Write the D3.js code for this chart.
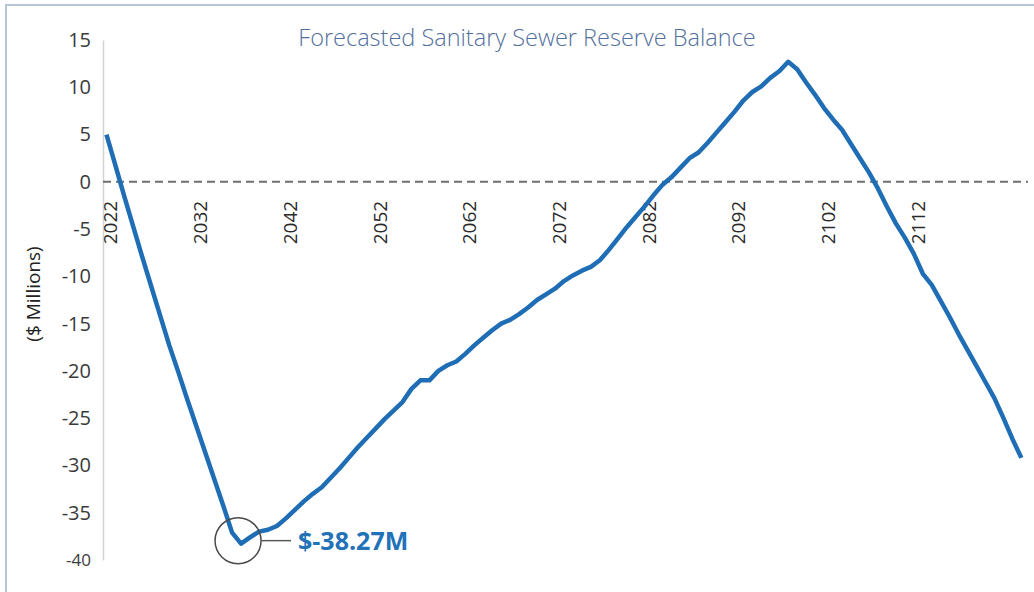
<!DOCTYPE html>
<html>
<head>
<meta charset="utf-8">
<script src="https://cdn.jsdelivr.net/npm/d3@7"></script>
<style>
  body { margin: 0; background: #fff; }
  svg { display: block; }
</style>
</head>
<body>
<div id="chart"></div>
<script>
// Forecasted reserve balance, $ millions, one value per year 2022-2124
const years = d3.range(2022, 2125);
const balance = [
  5.0, 1.7, -1.6, -4.8, -8.0, -11.1, -14.2, -17.3, -20.1, -23.0,
  -25.8, -28.6, -31.4, -34.2, -37.1, -38.27, -37.6, -37.0, -36.8, -36.4,
  -35.6, -34.7, -33.8, -33.0, -32.3, -31.3, -30.3, -29.2, -28.1, -27.1,
  -26.1, -25.1, -24.2, -23.3, -21.9, -21.0, -21.0, -20.0, -19.4, -19.0,
  -18.2, -17.3, -16.5, -15.7, -15.0, -14.6, -14.0, -13.3, -12.5, -11.9,
  -11.3, -10.5, -9.9, -9.4, -9.0, -8.3, -7.2, -6.0, -4.8, -3.7,
  -2.6, -1.4, -0.3, 0.5, 1.5, 2.5, 3.1, 4.1, 5.2, 6.3,
  7.4, 8.6, 9.5, 10.1, 11.0, 11.7, 12.7, 11.9, 10.5, 9.2,
  7.8, 6.6, 5.5, 4.0, 2.5, 1.0, -0.7, -2.6, -4.4, -5.9,
  -7.6, -9.7, -10.9, -12.6, -14.3, -16.1, -17.8, -19.5, -21.2, -22.9,
  -25.0, -27.2, -29.2
];
const yTicks = [15, 10, 5, 0, -5, -10, -15, -20, -25, -30, -35, -40];
const xTickYears = years.filter((d) => (d - 2022) % 10 === 0 && d <= 2112);
const minLabel = "$-38.27M";

const W = 1034, H = 592;
const data = years.map((year, i) => ({ year, value: balance[i] }));

const svg = d3.select("#chart").append("svg")
  .attr("width", W).attr("height", H);

// outer frame
svg.append("rect")
  .attr("x", 6).attr("y", 5)
  .attr("width", W + 20).attr("height", H + 20)
  .attr("fill", "none")
  .attr("stroke", "#b9c4d6")
  .attr("stroke-width", 2);

// Scales
const x = d3.scalePoint().domain(years).range([106.5, 1021.4]);
const y = d3.scaleLinear().domain([-40, 15]).range([560, 40]);

// Title
svg.append("text")
  .attr("x", 527).attr("y", 46)
  .attr("text-anchor", "middle")
  .style("font-family", "'Open Sans', sans-serif")
  .style("font-weight", 300)
  .style("font-size", "23.5px")
  .style("fill", "#53709c")
  .text("Forecasted Sanitary Sewer Reserve Balance");

// Y axis
const yAxis = svg.append("g")
  .attr("transform", "translate(103,0)")
  .call(d3.axisLeft(y).tickValues(yTicks).tickSize(0).tickPadding(12)
    .tickFormat((d) => String(d)));
yAxis.select(".domain").attr("stroke", "#d4d4d4").attr("stroke-width", 1.5);
yAxis.selectAll("text")
  .style("font-family", "'Open Sans', sans-serif")
  .style("font-size", (d) => (d === -40 ? "17px" : "20px"))
  .style("fill", "#3a3a3a");

// Y label
svg.append("text")
  .attr("transform", "translate(40,294) rotate(-90)")
  .attr("text-anchor", "middle")
  .style("font-family", "'Open Sans', sans-serif")
  .style("font-size", "19px")
  .style("fill", "#222")
  .text("($ Millions)");

// Zero line
svg.append("line")
  .attr("x1", 103).attr("x2", 1028)
  .attr("y1", y(0)).attr("y2", y(0))
  .attr("stroke", "#6f6f6f")
  .attr("stroke-width", 2)
  .attr("stroke-dasharray", "8,5");

// X axis labels (rotated)
const xAxis = svg.append("g")
  .attr("transform", `translate(0,${y(0)})`)
  .call(d3.axisBottom(x).tickValues(xTickYears).tickSize(0));
xAxis.select(".domain").remove();
xAxis.selectAll("text")
  .attr("transform", "rotate(-90)")
  .attr("x", -19)
  .attr("y", 0)
  .attr("dy", "0.55em")
  .attr("text-anchor", "end")
  .style("font-family", "'Open Sans', sans-serif")
  .style("font-size", "19px")
  .style("fill", "#2a2a2a");

// Balance line
const line = d3.line()
  .x((d) => x(d.year))
  .y((d) => y(d.value));

svg.append("path")
  .datum(data)
  .attr("fill", "none")
  .attr("stroke", "#1f6eb5")
  .attr("stroke-width", 4.5)
  .attr("stroke-linejoin", "round")
  .attr("d", line);

// Minimum annotation
const minPt = data.reduce((a, b) => (b.value < a.value ? b : a));
const cx = x(minPt.year) - 3, cy = y(minPt.value) - 3, r = 23;
svg.append("circle")
  .attr("cx", cx).attr("cy", cy).attr("r", r)
  .attr("fill", "none")
  .attr("stroke", "#4a4a4a")
  .attr("stroke-width", 1.5);
svg.append("line")
  .attr("x1", cx + r).attr("x2", cx + r + 30)
  .attr("y1", cy).attr("y2", cy)
  .attr("stroke", "#595959")
  .attr("stroke-width", 1.5);
svg.append("text")
  .attr("x", cx + r + 37).attr("y", cy + 9)
  .style("font-family", "'Open Sans', sans-serif")
  .style("font-weight", 700)
  .style("font-size", "25px")
  .style("fill", "#2272b8")
  .text(minLabel);
</script>
</body>
</html>
